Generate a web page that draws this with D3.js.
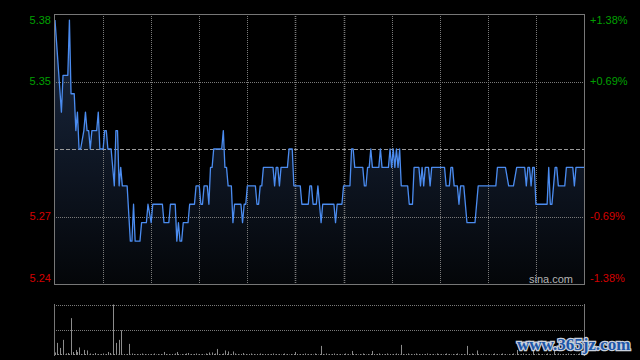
<!DOCTYPE html>
<html>
<head>
<meta charset="utf-8">
<script src="https://cdn.jsdelivr.net/npm/d3@7"></script>
<style>
body { margin: 0; background: #000; }
svg { display: block; }
</style>
</head>
<body>
<script>
const width = 640, height = 360
const preClose = 5.31
const span = 0.0138

// price path: trading minute since 9:30 (lunch removed) and price
const minutes = [0,4,5,8,9,10,12,13,14,15,16,18,19,20,21,22,23,26,27,28,30,31,32,33,35,37,38,39,40,41,42,45,47,48,49,50,53,54,57,58,60,61,67,68,71,72,75,76,77,78,79,80,83,84,87,88,90,91,92,93,95,96,97,98,99,104,105,106,107,108,110,111,112,116,117,118,119,120,125,126,127,128,129,130,136,137,138,139,140,141,145,146,148,149,153,154,158,159,160,161,163,164,165,166,167,174,175,176,179,180,184,185,186,187,192,193,194,195,196,197,198,202,203,204,208,209,210,211,212,213,214,215,216,220,221,223,224,227,228,229,230,231,233,234,235,243,244,246,247,248,249,251,252,253,255,257,262,264,275,276,281,283,286,288,293,294,295,296,297,298,299,300,307,308,309,310,312,313,314,318,319,323,324,325,330]
const prices = [5.38,5.33,5.35,5.35,5.38,5.34,5.34,5.32,5.33,5.31,5.31,5.32,5.33,5.32,5.32,5.31,5.32,5.32,5.33,5.31,5.31,5.32,5.32,5.31,5.31,5.29,5.32,5.32,5.29,5.30,5.29,5.29,5.26,5.26,5.28,5.26,5.26,5.27,5.27,5.28,5.27,5.28,5.28,5.27,5.27,5.28,5.28,5.26,5.27,5.26,5.26,5.27,5.27,5.28,5.28,5.29,5.29,5.28,5.28,5.29,5.29,5.28,5.30,5.30,5.31,5.31,5.32,5.30,5.30,5.29,5.29,5.27,5.28,5.28,5.27,5.28,5.28,5.29,5.29,5.28,5.28,5.29,5.29,5.30,5.30,5.29,5.30,5.30,5.29,5.30,5.30,5.31,5.31,5.29,5.29,5.28,5.28,5.29,5.29,5.28,5.28,5.29,5.28,5.27,5.28,5.28,5.27,5.28,5.28,5.29,5.29,5.31,5.31,5.30,5.30,5.29,5.29,5.30,5.30,5.31,5.30,5.30,5.31,5.30,5.30,5.31,5.30,5.31,5.30,5.31,5.30,5.31,5.29,5.29,5.28,5.28,5.30,5.30,5.29,5.30,5.29,5.30,5.30,5.29,5.30,5.30,5.29,5.29,5.30,5.30,5.29,5.29,5.28,5.29,5.29,5.27,5.27,5.29,5.29,5.30,5.30,5.29,5.29,5.30,5.30,5.29,5.30,5.30,5.29,5.30,5.30,5.28,5.28,5.30,5.28,5.28,5.30,5.30,5.29,5.29,5.30,5.30,5.29,5.30,5.30]

// volume per minute (arbitrary units, tallest bar = 100)
const volumes = [
  5,24,2,14,2,30,1,3,4,2,73,6,2,10,6,15,2,1,10,2,9,1,3,1,2,4,1,2,1,2,
  3,1,2,6,4,1,100,2,24,1,30,49,1,2,1,2,22,1,3,2,1,2,1,2,3,1,2,1,2,1,
  2,1,3,1,2,1,2,1,6,2,1,2,1,2,1,3,6,2,1,2,1,2,3,4,1,2,1,2,3,1,
  2,1,2,1,3,2,5,1,5,2,3,12,2,1,2,3,9,2,7,1,2,7,3,1,2,1,2,4,1,2,
  1,2,3,1,2,1,2,1,3,2,1,2,1,2,1,2,3,1,2,1,2,1,2,3,1,2,1,2,1,2,
  6,2,1,2,1,2,3,1,2,1,2,1,3,2,1,2,18,2,1,3,1,2,1,2,3,1,2,1,2,1,
  2,3,1,2,1,8,2,1,2,1,2,1,3,2,1,2,1,2,8,2,1,2,3,1,2,1,2,3,1,2,
  1,2,1,3,2,1,20,2,1,2,3,1,2,1,2,3,1,2,1,2,1,2,3,1,2,1,2,1,3,2,
  1,2,1,2,3,1,2,1,2,1,2,3,1,2,1,2,1,18,2,1,3,2,1,9,2,1,2,3,1,2,
  1,2,1,2,3,1,2,1,2,3,1,2,1,2,1,2,3,1,10,2,1,2,3,1,2,1,2,1,10,2,
  1,3,2,1,2,1,2,3,1,2,1,10,2,1,3,2,1,2,1,2,3,1,2,1,2,1,2,3,1,2,1
]

const priceLabels = ["5.38", "5.35", "5.27", "5.24"]
const pctLabels = ["+1.38%", "+0.69%", "-0.69%", "-1.38%"]
const tickPct = [span, span / 2, -span / 2, -span]
const gridMinutes = d3.range(30, 330, 30)

const main = {left: 54, right: 584, top: 14, bottom: 284}
const vol = {top: 304.5, bottom: 355}
const green = "#00a000", red = "#d40000", grid = "#7a7a7a"

const svg = d3.select("body").append("svg")
    .attr("width", width)
    .attr("height", height)
    .style("font-family", "'Liberation Sans', Arial, sans-serif")

svg.append("rect").attr("width", width).attr("height", height).attr("fill", "#000")

const x = d3.scaleLinear().domain([0, 330]).range([55, 584])
const y = d3.scaleLinear().domain([preClose * (1 - span), preClose * (1 + span)]).range([main.bottom, main.top])
const yv = d3.scaleLinear().domain([0, d3.max(volumes)]).range([vol.bottom, vol.top])
const crisp = v => Math.round(v) + 0.5

const defs = svg.append("defs")
const grad = defs.append("linearGradient")
    .attr("id", "fillGrad")
    .attr("gradientUnits", "userSpaceOnUse")
    .attr("x1", 0).attr("y1", main.top).attr("x2", 0).attr("y2", main.bottom)
grad.append("stop").attr("offset", 0).attr("stop-color", "#1b2a44")
grad.append("stop").attr("offset", 1).attr("stop-color", "#040609")

const data = minutes.map((m, i) => ({m, p: prices[i]}))

// area under price
svg.append("path")
    .datum(data)
    .attr("fill", "url(#fillGrad)")
    .attr("d", d3.area().x(d => x(d.m)).y0(main.bottom).y1(d => y(d.p)))

// vertical grid (main panel)
svg.append("g").selectAll("line").data(gridMinutes).enter()
    .append("line")
    .attr("x1", d => crisp(x(d))).attr("x2", d => crisp(x(d)))
    .attr("y1", main.top).attr("y2", main.bottom)
    .attr("stroke", grid)
    .attr("stroke-width", d => (d === 150 || d === 180) ? 1.6 : 1)
    .attr("stroke-dasharray", "1,1")

// horizontal grid
svg.append("g").selectAll("line").data([span / 2, -span / 2]).enter()
    .append("line")
    .attr("x1", main.left).attr("x2", main.right)
    .attr("y1", d => crisp(y(preClose * (1 + d)))).attr("y2", d => crisp(y(preClose * (1 + d))))
    .attr("stroke", grid)
    .attr("stroke-dasharray", "1,1")

// previous close
svg.append("line")
    .attr("x1", main.left).attr("x2", main.right)
    .attr("y1", crisp(y(preClose))).attr("y2", crisp(y(preClose)))
    .attr("stroke", "#9a9a9a")
    .attr("stroke-dasharray", "4,2")

// price line
svg.append("path")
    .datum(data)
    .attr("fill", "none")
    .attr("stroke", "#4b8cf0")
    .attr("stroke-width", 1.3)
    .attr("stroke-linejoin", "round")
    .attr("d", d3.line().x(d => x(d.m)).y(d => y(d.p)))

// main border
svg.append("rect")
    .attr("x", main.left + 0.5).attr("y", main.top + 0.5)
    .attr("width", main.right - main.left).attr("height", main.bottom - main.top)
    .attr("fill", "none").attr("stroke", "#777")

// axis labels
const labelY = d => Math.min(Math.max(y(preClose * (1 + d)), main.top + 6), main.bottom - 6)
svg.append("g").selectAll("text").data(tickPct).enter()
    .append("text")
    .attr("x", 51).attr("y", labelY)
    .attr("dy", "0.36em")
    .attr("text-anchor", "end")
    .attr("font-size", 11)
    .attr("fill", d => d > 0 ? green : red)
    .text((d, i) => priceLabels[i])

svg.append("g").selectAll("text").data(tickPct).enter()
    .append("text")
    .attr("x", 590).attr("y", labelY)
    .attr("dy", "0.36em")
    .attr("font-size", 11)
    .attr("fill", d => d > 0 ? green : red)
    .text((d, i) => pctLabels[i])

svg.append("text")
    .attr("x", 573).attr("y", 283)
    .attr("text-anchor", "end")
    .attr("font-size", 11)
    .attr("fill", "#b4b4b4")
    .text("sina.com")

// volume panel
svg.append("g").selectAll("line").data([vol.top, yv(d3.max(volumes) / 2)]).enter()
    .append("line")
    .attr("x1", main.left).attr("x2", main.right)
    .attr("y1", d => crisp(d)).attr("y2", d => crisp(d))
    .attr("stroke", grid)
    .attr("stroke-dasharray", "1,1")

svg.append("g").selectAll("line").data(volumes).enter()
    .append("line")
    .attr("x1", (d, i) => crisp(x(i))).attr("x2", (d, i) => crisp(x(i)))
    .attr("y1", vol.bottom).attr("y2", d => yv(d))
    .attr("stroke", "#8c8c8c")

svg.append("g").selectAll("line").data([main.left, main.right]).enter()
    .append("line")
    .attr("x1", d => d + 0.5).attr("x2", d => d + 0.5)
    .attr("y1", 304).attr("y2", vol.bottom + 1)
    .attr("stroke", "#777")

// site watermark
svg.append("text")
    .attr("x", 517).attr("y", 350)
    .attr("font-family", "'Liberation Serif', serif")
    .attr("font-weight", "bold")
    .attr("font-size", 17)
    .attr("fill", "#1c56a8")
    .attr("stroke", "#c8d0dc")
    .attr("stroke-width", 2.5)
    .attr("paint-order", "stroke")
    .text("www.365jz.com")
</script>
</body>
</html>
